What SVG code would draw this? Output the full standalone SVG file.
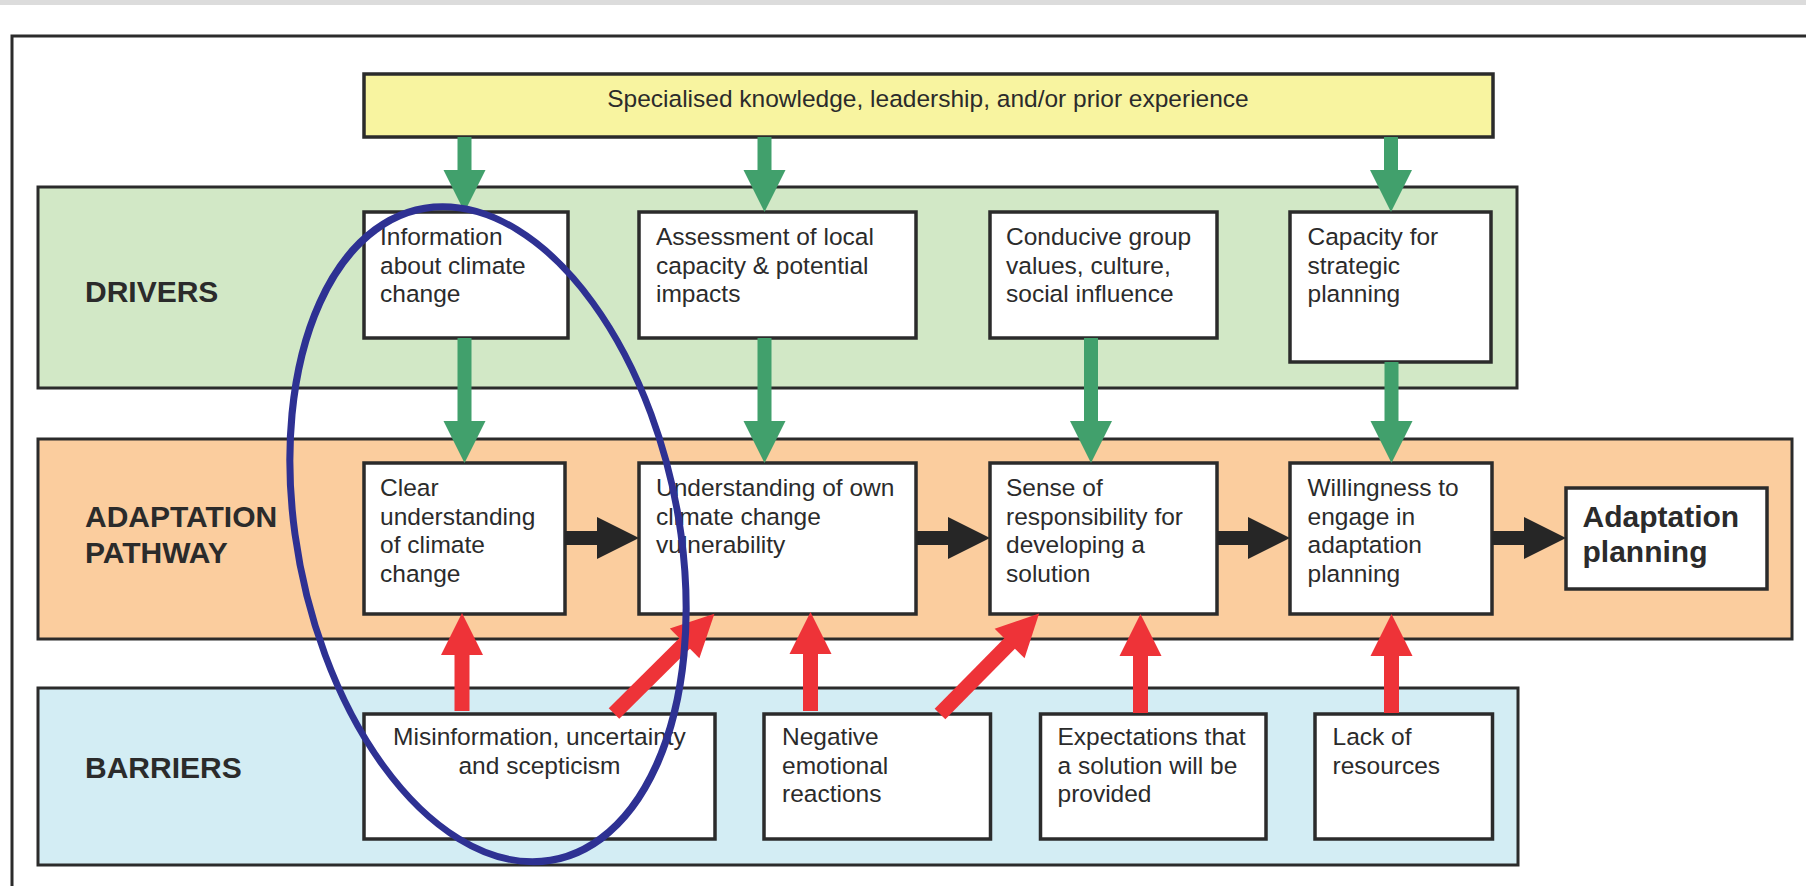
<svg xmlns="http://www.w3.org/2000/svg" width="1806" height="886" viewBox="0 0 1806 886">
<defs>
<style>
.t{font-family:"Liberation Sans",Arial,Helvetica,sans-serif;font-size:24.5px;fill:#2b2b2b}
.b{font-weight:bold;font-size:30px}
.box{fill:#fff;stroke:#2b2b2b;stroke-width:3.5}
.band{stroke:#2b2b2b;stroke-width:3}
.g{stroke:#41a06c;stroke-width:14;fill:none}
.r{stroke:#ee3338;stroke-width:15;fill:none}
.k{stroke:#262626;stroke-width:14;fill:none}
</style>
<marker id="hg" markerUnits="userSpaceOnUse" markerWidth="43" markerHeight="42" refX="1" refY="21" orient="auto" overflow="visible"><path d="M0,0 L42,21 L0,42 Z" fill="#41a06c"/></marker>
<marker id="hr" markerUnits="userSpaceOnUse" markerWidth="43" markerHeight="42" refX="1" refY="21" orient="auto" overflow="visible"><path d="M0,0 L42,21 L0,42 Z" fill="#ee3338"/></marker>
<marker id="hk" markerUnits="userSpaceOnUse" markerWidth="43" markerHeight="42" refX="1" refY="21" orient="auto" overflow="visible"><path d="M0,0 L42,21 L0,42 Z" fill="#262626"/></marker>
</defs>
<rect x="0" y="0" width="1806" height="886" fill="#fff"/>
<rect x="0" y="0" width="1806" height="5" fill="#dcdcdc"/>
<rect x="12" y="36" width="1830" height="900" fill="none" stroke="#2b2b2b" stroke-width="3"/>

<g id="bands">
<rect id="band-drivers" class="band" x="38" y="187" width="1479" height="201" fill="#d2e8c6"/>
<rect id="band-pathway" class="band" x="38" y="439" width="1754" height="200" fill="#fbcd9e"/>
<rect id="band-barriers" class="band" x="38" y="688" width="1480" height="177" fill="#d3edf4"/>
<text class="t b" x="85" y="302">DRIVERS</text>
<text class="t b" x="85" y="527">ADAPTATION</text>
<text class="t b" x="85" y="563">PATHWAY</text>
<text class="t b" x="85" y="778">BARRIERS</text>
</g>

<g id="node-specialised">
<rect x="364" y="74" width="1129" height="63" fill="#f8f4a0" stroke="#2b2b2b" stroke-width="3.5"/>
<text class="t" x="928" y="107" text-anchor="middle">Specialised knowledge, leadership, and/or prior experience</text>
</g>

<g id="node-information">
<rect class="box" x="364" y="212" width="204" height="126"/>
<text class="t" x="380" y="245">Information</text>
<text class="t" x="380" y="273.5">about climate</text>
<text class="t" x="380" y="302">change</text>
</g>
<g id="node-assessment">
<rect class="box" x="639" y="212" width="277" height="126"/>
<text class="t" x="656" y="245">Assessment of local</text>
<text class="t" x="656" y="273.5">capacity &amp; potential</text>
<text class="t" x="656" y="302">impacts</text>
</g>
<g id="node-conducive">
<rect class="box" x="990" y="212" width="227" height="126"/>
<text class="t" x="1006" y="245">Conducive group</text>
<text class="t" x="1006" y="273.5">values, culture,</text>
<text class="t" x="1006" y="302">social influence</text>
</g>
<g id="node-capacity">
<rect class="box" x="1290" y="212" width="201" height="150"/>
<text class="t" x="1307.5" y="245">Capacity for</text>
<text class="t" x="1307.5" y="273.5">strategic</text>
<text class="t" x="1307.5" y="302">planning</text>
</g>

<g id="node-clear">
<rect class="box" x="364" y="463" width="201" height="151"/>
<text class="t" x="380" y="496">Clear</text>
<text class="t" x="380" y="524.5">understanding</text>
<text class="t" x="380" y="553">of climate</text>
<text class="t" x="380" y="581.5">change</text>
</g>
<g id="node-understanding">
<rect class="box" x="639" y="463" width="277" height="151"/>
<text class="t" x="656" y="496">Understanding of own</text>
<text class="t" x="656" y="524.5">climate change</text>
<text class="t" x="656" y="553">vulnerability</text>
</g>
<g id="node-sense">
<rect class="box" x="990" y="463" width="227" height="151"/>
<text class="t" x="1006" y="496">Sense of</text>
<text class="t" x="1006" y="524.5">responsibility for</text>
<text class="t" x="1006" y="553">developing a</text>
<text class="t" x="1006" y="581.5">solution</text>
</g>
<g id="node-willingness">
<rect class="box" x="1290" y="463" width="202" height="151"/>
<text class="t" x="1307.5" y="496">Willingness to</text>
<text class="t" x="1307.5" y="524.5">engage in</text>
<text class="t" x="1307.5" y="553">adaptation</text>
<text class="t" x="1307.5" y="581.5">planning</text>
</g>
<g id="node-adaptation-planning">
<rect class="box" x="1566" y="488" width="201" height="101"/>
<text class="t b" x="1582.5" y="527">Adaptation</text>
<text class="t b" x="1582.5" y="562">planning</text>
</g>

<g id="node-misinformation">
<rect class="box" x="364" y="714" width="351" height="125"/>
<text class="t" x="539.5" y="745" text-anchor="middle">Misinformation, uncertainty</text>
<text class="t" x="539.5" y="773.5" text-anchor="middle">and scepticism</text>
</g>
<g id="node-negative">
<rect class="box" x="764" y="714" width="226.5" height="125"/>
<text class="t" x="782" y="745">Negative</text>
<text class="t" x="782" y="773.5">emotional</text>
<text class="t" x="782" y="802">reactions</text>
</g>
<g id="node-expectations">
<rect class="box" x="1040.5" y="714" width="225.5" height="125"/>
<text class="t" x="1057.5" y="745">Expectations that</text>
<text class="t" x="1057.5" y="773.5">a solution will be</text>
<text class="t" x="1057.5" y="802">provided</text>
</g>
<g id="node-lack">
<rect class="box" x="1315" y="714" width="177.5" height="125"/>
<text class="t" x="1332.5" y="745">Lack of</text>
<text class="t" x="1332.5" y="773.5">resources</text>
</g>

<g id="connectors">
<line class="g" x1="464.5" y1="137" x2="464.5" y2="171" marker-end="url(#hg)"/>
<line class="g" x1="764.5" y1="137" x2="764.5" y2="171" marker-end="url(#hg)"/>
<line class="g" x1="1391" y1="137" x2="1391" y2="171" marker-end="url(#hg)"/>
<line class="g" x1="464.5" y1="338" x2="464.5" y2="422" marker-end="url(#hg)"/>
<line class="g" x1="764.5" y1="338" x2="764.5" y2="422" marker-end="url(#hg)"/>
<line class="g" x1="1091" y1="338" x2="1091" y2="422" marker-end="url(#hg)"/>
<line class="g" x1="1391.5" y1="362" x2="1391.5" y2="422" marker-end="url(#hg)"/>
<line class="k" x1="565" y1="538" x2="598" y2="538" marker-end="url(#hk)"/>
<line class="k" x1="916" y1="538" x2="949" y2="538" marker-end="url(#hk)"/>
<line class="k" x1="1217" y1="538" x2="1249" y2="538" marker-end="url(#hk)"/>
<line class="k" x1="1492" y1="538" x2="1525" y2="538" marker-end="url(#hk)"/>
<line class="r" x1="462" y1="711" x2="462" y2="654" marker-end="url(#hr)"/>
<line class="r" x1="810.5" y1="711" x2="810.5" y2="653" marker-end="url(#hr)"/>
<line class="r" x1="1140.5" y1="713" x2="1140.5" y2="655" marker-end="url(#hr)"/>
<line class="r" x1="1391.5" y1="713" x2="1391.5" y2="655" marker-end="url(#hr)"/>
<line class="r" x1="614" y1="713.5" x2="685.3" y2="642.7" marker-end="url(#hr)"/>
<line class="r" x1="940" y1="714" x2="1010.3" y2="642.7" marker-end="url(#hr)"/>
</g>

<g id="highlight-ellipse">
<ellipse cx="0" cy="0" rx="193" ry="327.5" transform="translate(488 534.25) skewX(7.8)" fill="none" stroke="#2e3193" stroke-width="7"/>
</g>
</svg>
